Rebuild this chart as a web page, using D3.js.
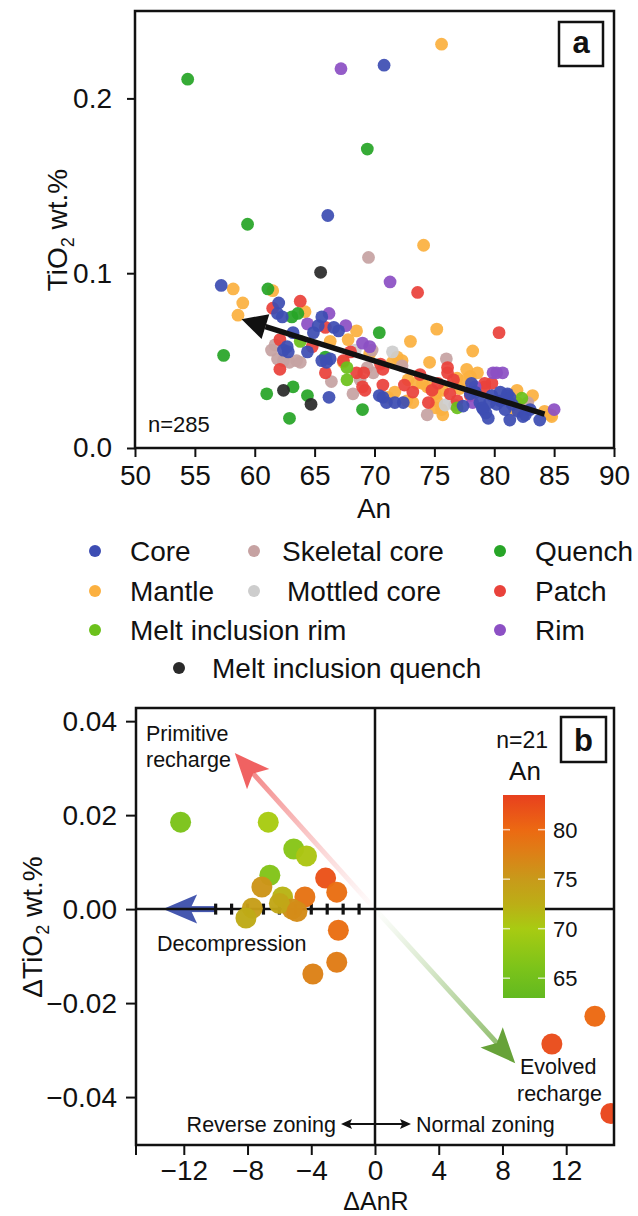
<!DOCTYPE html>
<html><head><meta charset="utf-8">
<script src="https://cdn.jsdelivr.net/npm/d3@7"></script>
<style>
html,body{margin:0;padding:0;background:#fff;}
svg{display:block;font-family:"Liberation Sans",Arial,Helvetica,sans-serif;}
</style></head><body>
<svg id="fig" width="638" height="1216"></svg>
<script>
// ---------- Panel a: TiO2 (wt.%) against An, by plagioclase zone ----------
const categories = ["Core", "Mantle", "Melt inclusion rim", "Skeletal core", "Mottled core",
                    "Quench", "Patch", "Rim", "Melt inclusion quench"];
const categoryColors = ["#3d4db3", "#fbb040", "#6cc11c", "#c6a2a2", "#cdcdcd",
                        "#27a527", "#e9423b", "#8c50c4", "#2a2a2a"];

// [An, TiO2] pairs per zone type
const core = [[57.2,0.093],[62.0,0.083],[61.9,0.077],[62.3,0.075],[65.6,0.075],[66.6,0.069],[63.2,0.066],[64.9,0.066],[62.4,0.056],[62.7,0.058],[62.8,0.055],[65.6,0.050],[66.3,0.051],[66.0,0.049],[66.2,0.029],[70.8,0.219],[66.1,0.133],[70.7,0.029],[71.0,0.026],[72.4,0.026],[78.1,0.037],[78.0,0.031],[79.1,0.022],[79.3,0.020],[79.6,0.026],[80.5,0.027],[81.1,0.031],[81.3,0.029],[81.3,0.016],[82.4,0.018],[83.8,0.016],[77.4,0.024],[78.8,0.026],[78.4,0.032],[79.0,0.023],[80.2,0.025],[81.1,0.030],[82.0,0.021],[82.6,0.019],[80.5,0.032],[70.4,0.030],[71.7,0.026],[80.9,0.022],[81.5,0.025],[83.0,0.022],[79.5,0.017],[79.8,0.030],[64.4,0.055],[67.0,0.067],[65.3,0.070]];
const mantle = [[58.2,0.091],[61.5,0.090],[59.0,0.083],[58.6,0.076],[64.2,0.078],[67.8,0.062],[66.3,0.061],[67.4,0.049],[69.6,0.054],[75.6,0.231],[74.1,0.116],[75.2,0.068],[73.0,0.061],[78.2,0.0555],[74.6,0.049],[71.9,0.052],[72.3,0.050],[71.5,0.049],[77.7,0.045],[78.0,0.041],[76.9,0.040],[77.6,0.039],[73.5,0.037],[74.4,0.035],[72.8,0.039],[74.0,0.037],[72.7,0.027],[73.2,0.026],[75.2,0.027],[75.7,0.019],[75.1,0.023],[75.6,0.022],[81.9,0.026],[81.7,0.022],[81.9,0.033],[83.2,0.030],[84.2,0.021],[84.7,0.019],[84.8,0.018],[75.1,0.031],[75.7,0.033],[77.1,0.034],[78.6,0.043],[71.7,0.032],[71.1,0.029],[68.5,0.067]];
const meltInclusionRim = [[76.9,0.023],[82.3,0.0285],[67.7,0.046],[67.7,0.039],[63.8,0.061]];
const skeletalCore = [[69.5,0.109],[61.4,0.056],[61.9,0.051],[62.4,0.050],[62.9,0.049],[63.5,0.050],[63.8,0.049],[61.7,0.059],[66.4,0.038],[68.2,0.031],[68.8,0.039],[69.4,0.046],[69.9,0.043],[76.0,0.051],[72.3,0.047],[74.4,0.019],[82.8,0.026],[69.8,0.056],[76.7,0.0246]];
const mottledCore = [[75.9,0.0246],[71.5,0.055],[68.4,0.056]];
const quench = [[54.4,0.211],[69.4,0.171],[59.4,0.128],[61.1,0.091],[57.4,0.053],[70.4,0.066],[61.0,0.031],[63.2,0.035],[64.4,0.030],[69.0,0.022],[62.9,0.017],[63.6,0.077],[65.9,0.052],[63.1,0.075]];
const patch = [[63.8,0.084],[61.5,0.080],[65.9,0.069],[62.1,0.062],[62.1,0.045],[65.9,0.043],[68.5,0.043],[69.1,0.043],[67.4,0.050],[69.2,0.033],[69.0,0.035],[70.7,0.036],[70.5,0.048],[70.7,0.045],[73.6,0.089],[80.4,0.066],[76.1,0.043],[76.6,0.039],[75.3,0.037],[73.2,0.032],[74.5,0.026],[76.3,0.031],[76.9,0.027],[79.2,0.035],[79.8,0.037],[79.2,0.037],[76.1,0.046],[74.8,0.033],[73.8,0.042],[78.0,0.030],[72.5,0.036],[64.8,0.058],[68.0,0.055]];
const rim = [[67.2,0.217],[71.3,0.095],[66.2,0.077],[64.4,0.071],[67.6,0.070],[69.0,0.060],[69.6,0.058],[79.9,0.043],[80.7,0.043],[80.2,0.043],[78.2,0.026],[78.4,0.035],[85.0,0.022]];
const meltInclusionQuench = [[65.5,0.1005],[62.4,0.033],[64.7,0.025]];

const seriesA = [core, mantle, meltInclusionRim, skeletalCore, mottledCore, quench, patch, rim, meltInclusionQuench];
const drawOrderA = [1, 3, 4, 6, 5, 2, 7, 0, 8];

const xTicksA = [50, 55, 60, 65, 70, 75, 80, 85, 90];
const yTicksA = [0, 0.1, 0.2];
// overall trend arrow, [An, TiO2] from tail to head
const trendArrow = [[84.2, 0.0194], [58.9, 0.0737]];

// ---------- Panel b: change in TiO2 against change in An across zones ----------
const dAnR = [-12.2,-6.7,-5.1,-4.3,-6.6,-3.1,-7.1,-2.4,-5.8,-4.4,-7.7,-8.1,-5.2,-2.3,-2.4,-3.9,11.1,13.8,14.8,-6.0,-4.9];
const dTiO2 = [0.0185,0.0185,0.0128,0.0113,0.0072,0.0066,0.0047,0.0036,0.0026,0.0026,0.0002,-0.0019,0.0000,-0.0045,-0.0113,-0.0138,-0.0287,-0.0228,-0.0435,0.0012,-0.0005];
const anB = [66,70,67,70.5,66.5,82,75.5,79.5,72,79,74.5,73,76,79.5,78,77.5,82.5,80,83,73.5,76.5];

const xTicksB = [-12, -8, -4, 0, 4, 8, 12];
const yTicksB = [-0.04, -0.02, 0, 0.02, 0.04];
const colorbarTicks = [65, 70, 75, 80];
const anStops  = [63, 66, 70, 72.5, 75, 78, 80, 83.5];
const anColors = ["#62b920", "#7cc31a", "#a8cb12", "#bcae16", "#c89a1a", "#e07c16", "#ec6912", "#e8401e"];
const decompressionTicks = [-10, -9, -8, -7, -6, -5, -4, -3, -2, -1];
// process arrows, [dAnR, dTiO2] tail to head
const primitiveArrow = [[0, 0], [-8.8, 0.0332]];
const evolvedArrow = [[0, 0], [8.8, -0.0328]];
const decompressionArrow = [[-10, 0], [-13.3, 0]];

// ---------------------------------------------------------------------
const svg = d3.select("#fig");
const INK = "#111";

function arrowHead(g, tip, tail, len, hw, notch, fill, opacity) {
  const dx = tip[0] - tail[0], dy = tip[1] - tail[1];
  const d = Math.hypot(dx, dy), ux = dx / d, uy = dy / d;
  const bx = tip[0] - ux * len, by = tip[1] - uy * len;
  const nx = tip[0] - ux * len * notch, ny = tip[1] - uy * len * notch;
  const pts = [[tip[0], tip[1]], [bx - uy * hw, by + ux * hw], [nx, ny], [bx + uy * hw, by - ux * hw]];
  g.append("polygon").attr("points", pts.map(p => p.join(",")).join(" "))
    .attr("fill", fill).attr("fill-opacity", opacity == null ? 1 : opacity);
  return [tip[0] - ux * len * notch, tip[1] - uy * len * notch];
}

// ===== Panel a =====
const xA = d3.scaleLinear().domain([50, 90]).range([135, 614]);
const yA = d3.scaleLinear().domain([0, 0.25]).range([448, 11]);
const gA = svg.append("g");

drawOrderA.forEach(i => {
  gA.append("g").selectAll("circle").data(seriesA[i]).join("circle")
    .attr("cx", d => xA(d[0])).attr("cy", d => yA(d[1])).attr("r", 6.4)
    .attr("fill", categoryColors[i]).attr("fill-opacity", 0.93);
});

// trend arrow
{
  const t0 = [xA(trendArrow[0][0]), yA(trendArrow[0][1])];
  const t1 = [xA(trendArrow[1][0]), yA(trendArrow[1][1])];
  const base = arrowHead(gA, t1, t0, 25, 13, 1, INK);
  gA.append("line").attr("x1", t0[0]).attr("y1", t0[1]).attr("x2", base[0]).attr("y2", base[1])
    .attr("stroke", INK).attr("stroke-width", 5.5);
}

gA.append("rect").attr("x", 135).attr("y", 11).attr("width", 479).attr("height", 437)
  .attr("fill", "none").attr("stroke", INK).attr("stroke-width", 2.5);

const axA_x = gA.append("g").attr("transform", "translate(0,448)")
  .call(d3.axisBottom(xA).tickValues(xTicksA).tickSize(9).tickPadding(8).tickFormat(d3.format("d")));
const axA_y = gA.append("g").attr("transform", "translate(135,0)")
  .call(d3.axisLeft(yA).tickValues(yTicksA).tickSize(8).tickPadding(15).tickFormat(d3.format(".1f")));
[axA_x, axA_y].forEach(a => {
  a.select(".domain").remove();
  a.selectAll("line").attr("stroke", INK).attr("stroke-width", 2);
  a.selectAll("text").attr("font-size", 28).attr("fill", INK).attr("font-family", "Liberation Sans, Arial, sans-serif");
});

gA.append("text").attr("x", 374).attr("y", 518).attr("text-anchor", "middle")
  .attr("font-size", 28).attr("fill", INK).text("An");
{
  const t = gA.append("text").attr("transform", "translate(57,230) rotate(-90)")
    .attr("text-anchor", "middle").attr("dy", "0.35em").attr("font-size", 28).attr("fill", INK);
  t.append("tspan").text("TiO");
  t.append("tspan").attr("font-size", 18).attr("dy", 7).text("2");
  t.append("tspan").attr("dy", -7).text(" wt.%");
}
gA.append("text").attr("x", 148).attr("y", 432).attr("font-size", 22).attr("fill", INK).text("n=285");
gA.append("rect").attr("x", 559).attr("y", 22).attr("width", 44).attr("height", 44)
  .attr("fill", "#fff").attr("stroke", INK).attr("stroke-width", 2.5);
gA.append("text").attr("x", 581).attr("y", 53).attr("text-anchor", "middle")
  .attr("font-size", 31).attr("font-weight", "bold").attr("fill", INK).text("a");

// legend
const legendSlots = [
  {mx: 95, tx: 130, y: 551}, {mx: 95, tx: 130, y: 591}, {mx: 95, tx: 130, y: 630},
  {mx: 254, tx: 282, y: 551}, {mx: 254, tx: 287, y: 591},
  {mx: 500, tx: 535, y: 551}, {mx: 500, tx: 535, y: 591}, {mx: 500, tx: 535, y: 630},
  {mx: 179, tx: 212, y: 668}
];
const legend = svg.append("g").selectAll("g").data(categories).join("g");
legend.append("circle").attr("cx", (d, i) => legendSlots[i].mx).attr("cy", (d, i) => legendSlots[i].y)
  .attr("r", 6).attr("fill", (d, i) => categoryColors[i]);
legend.append("text").attr("x", (d, i) => legendSlots[i].tx).attr("y", (d, i) => legendSlots[i].y)
  .attr("dy", "0.36em").attr("font-size", 28).attr("fill", INK).text(d => d);

// ===== Panel b =====
const xB = d3.scaleLinear().domain([-15, 15]).range([136, 614]);
const yB = d3.scaleLinear().domain([-0.0502, 0.0428]).range([1145, 708]);
const anColor = d3.scaleLinear().domain(anStops).range(anColors).clamp(true);
const gB = svg.append("g");
const defs = svg.append("defs");
defs.append("clipPath").attr("id", "clipB").append("rect")
  .attr("x", 136).attr("y", 708).attr("width", 478).attr("height", 437);

// process arrows with fading shafts
function gradientArrow(id, arrow, color, headColor) {
  const p0 = [xB(arrow[0][0]), yB(arrow[0][1])];
  const p1 = [xB(arrow[1][0]), yB(arrow[1][1])];
  const grad = defs.append("linearGradient").attr("id", id).attr("gradientUnits", "userSpaceOnUse")
    .attr("x1", p0[0]).attr("y1", p0[1]).attr("x2", p1[0]).attr("y2", p1[1]);
  grad.append("stop").attr("offset", 0).attr("stop-color", color).attr("stop-opacity", 0);
  grad.append("stop").attr("offset", 0.35).attr("stop-color", color).attr("stop-opacity", 0.25);
  grad.append("stop").attr("offset", 1).attr("stop-color", color).attr("stop-opacity", 0.9);
  const g = gB.append("g");
  const base = arrowHead(g, p1, p0, 35, 15, 0.78, headColor, 0.95);
  g.insert("line", "polygon").attr("x1", p0[0]).attr("y1", p0[1]).attr("x2", base[0]).attr("y2", base[1])
    .attr("stroke", `url(#${id})`).attr("stroke-width", 5);
}
gradientArrow("gradPrim", primitiveArrow, "#f06a6a", "#ef5a5a");
gradientArrow("gradEvol", evolvedArrow, "#74ad48", "#5f9d2e");

// decompression arrow
{
  const p0 = [xB(decompressionArrow[0][0]), yB(decompressionArrow[0][1])];
  const p1 = [xB(decompressionArrow[1][0]), yB(decompressionArrow[1][1])];
  const g = gB.append("g");
  const base = arrowHead(g, p1, p0, 34, 14.5, 0.8, "#4658b0");
  g.insert("line", "polygon").attr("x1", p0[0]).attr("y1", p0[1]).attr("x2", base[0]).attr("y2", base[1])
    .attr("stroke", "#4658b0").attr("stroke-width", 6);
}

// zero lines
gB.append("line").attr("x1", 136).attr("x2", 614).attr("y1", yB(0)).attr("y2", yB(0))
  .attr("stroke", INK).attr("stroke-width", 2.5);
gB.append("line").attr("x1", xB(0)).attr("x2", xB(0)).attr("y1", 708).attr("y2", 1145)
  .attr("stroke", INK).attr("stroke-width", 2.5);
gB.append("g").selectAll("line").data(decompressionTicks).join("line")
  .attr("x1", d => xB(d)).attr("x2", d => xB(d)).attr("y1", yB(0) - 5.5).attr("y2", yB(0) + 5.5)
  .attr("stroke", INK).attr("stroke-width", 3.2);

// colour bar
{
  const cbTop = 795, cbBot = 998, cbX = 503, cbW = 42;
  const cbScale = d3.scaleLinear().domain([63, 83.5]).range([cbBot, cbTop]);
  const grad = defs.append("linearGradient").attr("id", "gradAn")
    .attr("x1", 0).attr("y1", 1).attr("x2", 0).attr("y2", 0);
  anStops.forEach((s, i) => grad.append("stop")
    .attr("offset", (s - 63) / (83.5 - 63)).attr("stop-color", anColors[i]));
  gB.append("rect").attr("x", cbX).attr("y", cbTop).attr("width", cbW).attr("height", cbBot - cbTop)
    .attr("fill", "url(#gradAn)");
  const tk = gB.append("g").selectAll("g").data(colorbarTicks).join("g");
  tk.append("line").attr("x1", cbX).attr("x2", cbX + 7).attr("y1", d => cbScale(d)).attr("y2", d => cbScale(d))
    .attr("stroke", "#fff").attr("stroke-opacity", 0.7).attr("stroke-width", 1.5);
  tk.append("line").attr("x1", cbX + cbW - 7).attr("x2", cbX + cbW).attr("y1", d => cbScale(d)).attr("y2", d => cbScale(d))
    .attr("stroke", "#fff").attr("stroke-opacity", 0.7).attr("stroke-width", 1.5);
  tk.append("text").attr("x", cbX + cbW + 8).attr("y", d => cbScale(d)).attr("dy", "0.36em")
    .attr("font-size", 22).attr("fill", INK).text(d => d);
  gB.append("text").attr("x", 525).attr("y", 780).attr("text-anchor", "middle")
    .attr("font-size", 26).attr("fill", INK).text("An");
  gB.append("text").attr("x", 548).attr("y", 748).attr("text-anchor", "end")
    .attr("font-size", 23).attr("fill", INK).text("n=21");
}

// data points
gB.append("g").attr("clip-path", "url(#clipB)").selectAll("circle").data(dAnR).join("circle")
  .attr("cx", d => xB(d)).attr("cy", (d, i) => yB(dTiO2[i])).attr("r", 10.5)
  .attr("fill", (d, i) => anColor(anB[i])).attr("fill-opacity", 0.97);

// annotations
const ann = gB.append("g").attr("font-size", 21.5).attr("fill", INK);
ann.append("text").attr("x", 146).attr("y", 741).text("Primitive");
ann.append("text").attr("x", 146).attr("y", 767).text("recharge");
ann.append("text").attr("x", 157).attr("y", 951).text("Decompression");
ann.append("text").attr("x", 520).attr("y", 1074).text("Evolved");
ann.append("text").attr("x", 517).attr("y", 1101).text("recharge");
ann.append("text").attr("x", 336).attr("y", 1132).attr("text-anchor", "end").text("Reverse zoning");
ann.append("text").attr("x", 416).attr("y", 1132).text("Normal zoning");
{
  const yZ = 1124;
  ann.append("line").attr("x1", 348).attr("x2", 404).attr("y1", yZ).attr("y2", yZ)
    .attr("stroke", INK).attr("stroke-width", 2);
  arrowHead(ann, [341, yZ], [360, yZ], 11, 5, 0.8, INK);
  arrowHead(ann, [411, yZ], [390, yZ], 11, 5, 0.8, INK);
}

gB.append("rect").attr("x", 136).attr("y", 708).attr("width", 478).attr("height", 437)
  .attr("fill", "none").attr("stroke", INK).attr("stroke-width", 2.5);
gB.append("rect").attr("x", 561).attr("y", 717).attr("width", 45).attr("height", 45)
  .attr("fill", "#fff").attr("stroke", INK).attr("stroke-width", 2.5);
gB.append("text").attr("x", 583.5).attr("y", 751).attr("text-anchor", "middle")
  .attr("font-size", 31).attr("font-weight", "bold").attr("fill", INK).text("b");

const axB_x = gB.append("g").attr("transform", "translate(0,1145)")
  .call(d3.axisBottom(xB).tickValues(xTicksB).tickSize(10).tickPadding(5).tickFormat(d3.format("d")));
const axB_y = gB.append("g").attr("transform", "translate(136,0)")
  .call(d3.axisLeft(yB).tickValues(yTicksB).tickSize(10).tickPadding(9).tickFormat(d3.format(".2f")));
[axB_x, axB_y].forEach(a => {
  a.select(".domain").remove();
  a.selectAll("line").attr("stroke", INK).attr("stroke-width", 2);
  a.selectAll("text").attr("font-size", 28).attr("fill", INK).attr("font-family", "Liberation Sans, Arial, sans-serif");
});
gB.append("line").attr("x1", 136).attr("x2", 136).attr("y1", 1145).attr("y2", 1155)
  .attr("stroke", INK).attr("stroke-width", 2);

gB.append("text").attr("x", 376).attr("y", 1210).attr("text-anchor", "middle")
  .attr("font-size", 25).attr("fill", INK).text("\u0394AnR");
{
  const t = gB.append("text").attr("transform", "translate(32,927) rotate(-90)")
    .attr("text-anchor", "middle").attr("dy", "0.35em").attr("font-size", 28).attr("fill", INK);
  t.append("tspan").text("\u0394TiO");
  t.append("tspan").attr("font-size", 18).attr("dy", 7).text("2");
  t.append("tspan").attr("dy", -7).text(" wt.%");
}
</script>
</body></html>
